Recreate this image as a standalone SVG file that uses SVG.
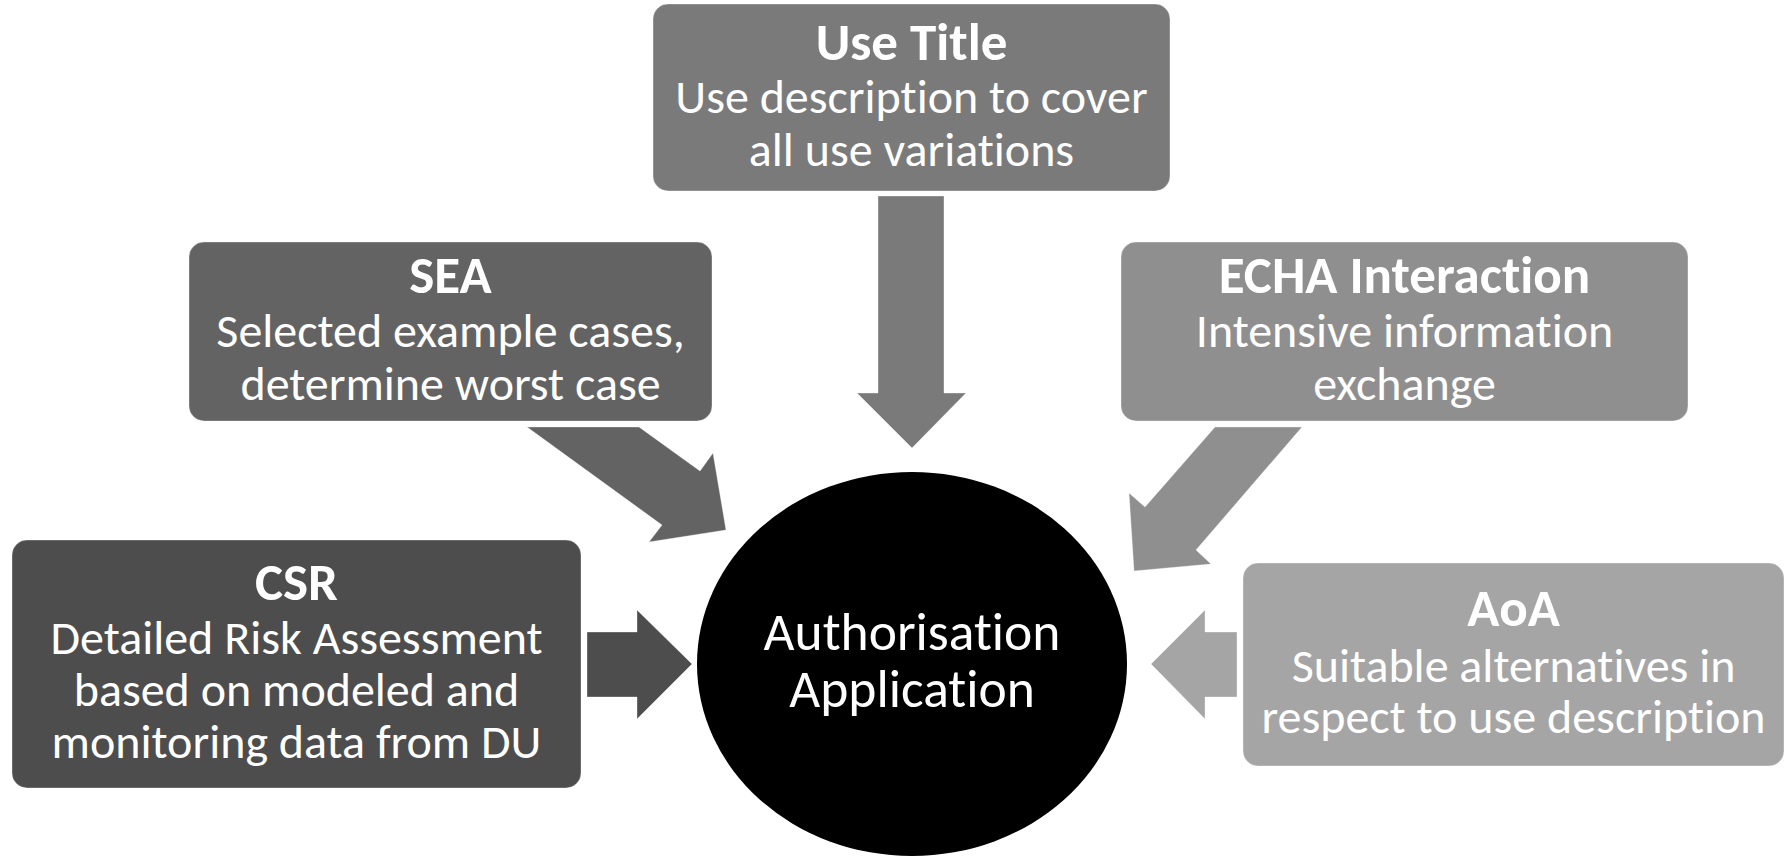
<svg xmlns="http://www.w3.org/2000/svg" width="1787" height="857" viewBox="0 0 1787 857">
  <style>
    text { font-family: Carlito, Lato, "Liberation Sans", sans-serif; fill: #ffffff; text-anchor: middle; font-variant-ligatures: none; font-feature-settings: "liga" 0; }
    .title { font-weight: bold; font-size: 53px; }
    .body { font-size: 48px; }
    .center { font-size: 53.5px; }
    .box { stroke: #ffffff; stroke-opacity: 0.35; stroke-width: 1; }
    .arrow { stroke: #ffffff; stroke-opacity: 0.35; stroke-width: 1; }
    .c1 { fill: #4d4d4d; }
    .c2 { fill: #636363; }
    .c3 { fill: #7a7a7a; }
    .c4 { fill: #8f8f8f; }
    .c5 { fill: #a5a5a5; }
  </style>
  <rect width="1787" height="857" fill="#ffffff"/>

  <!-- block arrows pointing at the central ellipse -->
  <g id="connectors">
    <polygon class="arrow c3" points="878,196 944,196 944,393 966,393 912,448 857,393 878,393"/>
    <polygon class="arrow c2" points="527,427 639,427 700,471 713,453 726,530 649,542 662,525"/>
    <polygon class="arrow c4" points="1215,427 1302,427 1196,550 1211,564 1134,571 1129,493 1145,507"/>
    <polygon class="arrow c1" points="587,632 637,632 637,610 692,664 637,719 637,697 587,697"/>
    <polygon class="arrow c5" points="1237,632 1205,632 1205,610 1151,664 1205,719 1205,697 1237,697"/>
  </g>

  <g id="use-title">
    <rect class="box c3" x="653" y="4" width="517" height="187" rx="15"/>
    <text class="title" x="911.5" y="60">Use Title</text>
    <text class="body" x="911.5" y="113">Use description to cover</text>
    <text class="body" x="911.5" y="166">all use variations</text>
  </g>

  <g id="sea">
    <rect class="box c2" x="189" y="242" width="523" height="179" rx="15"/>
    <text class="title" x="450.5" y="293">SEA</text>
    <text class="body" x="450.5" y="347">Selected example cases,</text>
    <text class="body" x="450.5" y="400">determine worst case</text>
  </g>

  <g id="echa-interaction">
    <rect class="box c4" x="1121" y="242" width="567" height="179" rx="15"/>
    <text class="title" x="1404.5" y="293">ECHA Interaction</text>
    <text class="body" x="1404.5" y="347">Intensive information</text>
    <text class="body" x="1404.5" y="400">exchange</text>
  </g>

  <g id="csr">
    <rect class="box c1" x="12" y="540" width="569" height="248" rx="15"/>
    <text class="title" x="296.5" y="600">CSR</text>
    <text class="body" x="296.5" y="654">Detailed Risk Assessment</text>
    <text class="body" x="296.5" y="706">based on modeled and</text>
    <text class="body" x="296.5" y="758">monitoring data from DU</text>
  </g>

  <g id="aoa">
    <rect class="box c5" x="1243" y="563" width="541" height="203" rx="15"/>
    <text class="title" x="1513.5" y="626">AoA</text>
    <text class="body" x="1513.5" y="682">Suitable alternatives in</text>
    <text class="body" x="1513.5" y="733">respect to use description</text>
  </g>

  <g id="authorisation-application">
    <ellipse cx="912" cy="664" rx="215" ry="192" fill="#000000"/>
    <text class="center" x="912" y="650">Authorisation</text>
    <text class="center" x="912" y="707">Application</text>
  </g>
</svg>
